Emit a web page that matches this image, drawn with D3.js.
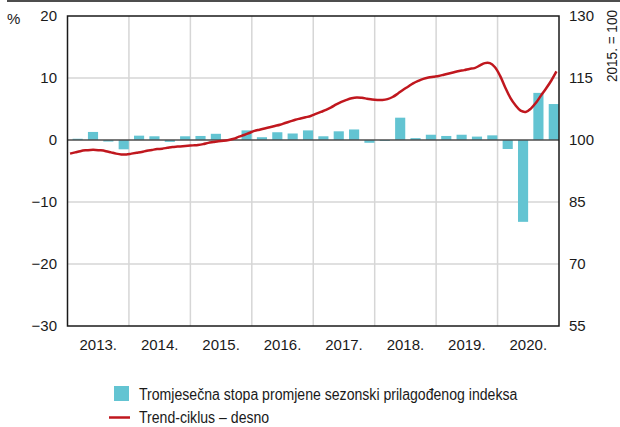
<!DOCTYPE html>
<html>
<head>
<meta charset="utf-8">
<script src="https://cdn.jsdelivr.net/npm/d3@7"></script>
<style>
  body { margin: 0; background: #fff; }
  text { font-family: "Liberation Sans", Arial, sans-serif; fill: #1a1a1a; }
</style>
</head>
<body>
<div id="chart"></div>
<script>
const years = ["2013.", "2014.", "2015.", "2016.", "2017.", "2018.", "2019.", "2020."];
const leftTicks = [20, 10, 0, -10, -20, -30];
const rightTicks = [130, 115, 100, 85, 70, 55];

// quarterly rate of change, % (left axis)
const quarterlyChange = [
    0.2, 1.3, -0.25, -1.5,
    0.7, 0.6, -0.3, 0.6,
    0.65, 1.0, 0.1, 1.55,
    0.45, 1.25, 1.05, 1.55,
    0.6, 1.4, 1.7, -0.45,
    -0.15, 3.6, 0.3, 0.85,
    0.65, 0.85, 0.55, 0.75,
    -1.45, -13.2, 7.6, 5.8
];

// trend-cycle, monthly, 2015. = 100 (right axis)
const trendCycle = [
    96.7, 97.0, 97.3, 97.5, 97.6, 97.6, 97.5, 97.3, 97.0, 96.7, 96.5, 96.5,
    96.7, 96.9, 97.1, 97.4, 97.6, 97.8, 97.9, 98.1, 98.3, 98.4, 98.5, 98.6,
    98.7, 98.8, 99.0, 99.3, 99.5, 99.7, 99.8, 100.0, 100.3, 100.8, 101.2, 101.7,
    102.2, 102.5, 102.8, 103.1, 103.4, 103.7, 104.1, 104.5, 104.9, 105.2, 105.5, 105.8,
    106.3, 106.8, 107.3, 107.9, 108.6, 109.2, 109.7, 110.1, 110.3, 110.2, 110.0, 109.8,
    109.7, 109.7, 109.9, 110.4, 111.2, 112.1, 112.9, 113.7, 114.3, 114.8, 115.1, 115.3,
    115.5, 115.8, 116.1, 116.4, 116.7, 116.9, 117.2, 117.4, 118.0, 118.6, 118.6, 117.6,
    115.5, 112.7, 110.2, 108.4, 107.1, 106.8, 107.6, 109.0, 110.8, 112.5, 114.4, 116.6
];

const legendLabels = ["Tromjesečna stopa promjene sezonski prilagođenog indeksa", "Trend-ciklus – desno"];

const barColor = "#63c4d2";
const lineColor = "#c0171e";

const width = 620, height = 427;
const margin = { top: 16, right: 61, bottom: 101, left: 67.5 };
const x0 = margin.left, x1 = width - margin.right;
const y0 = margin.top, y1 = height - margin.bottom;

const svg = d3.select("#chart")
    .append("svg")
    .attr("width", width)
    .attr("height", height);

// top rule
svg.append("line")
    .attr("x1", 7).attr("x2", width)
    .attr("y1", 1).attr("y2", 1)
    .attr("stroke", "#4d4d4d")
    .attr("stroke-width", 2);

// scales
const yLeft = d3.scaleLinear().domain([-30, 20]).range([y1, y0]);
const yRight = d3.scaleLinear().domain([55, 130]).range([y1, y0]);
const xYear = d3.scaleBand().domain(years).range([x0, x1]);
const quarters = quarterlyChange.map((d, i) => i);
const xQuarter = d3.scaleBand().domain(quarters).range([x0, x1]);
const xMonth = d3.scaleLinear().domain([0, trendCycle.length]).range([x0, x1]);

// grid
svg.append("g")
    .selectAll("line")
    .data(years.slice(1))
    .enter()
    .append("line")
    .attr("x1", d => xYear(d)).attr("x2", d => xYear(d))
    .attr("y1", y0).attr("y2", y1)
    .attr("stroke", "#d6d6d6")
    .attr("stroke-width", 1.5);

svg.append("g")
    .selectAll("line")
    .data([10, -10, -20])
    .enter()
    .append("line")
    .attr("x1", x0).attr("x2", x1)
    .attr("y1", d => yLeft(d)).attr("y2", d => yLeft(d))
    .attr("stroke", "#d6d6d6")
    .attr("stroke-width", 1.5);

// bars
const bw = xQuarter.bandwidth();
svg.append("g")
    .selectAll("rect")
    .data(quarterlyChange)
    .enter()
    .append("rect")
    .attr("x", (d, i) => xQuarter(i) + bw * 0.33)
    .attr("y", d => yLeft(Math.max(0, d)))
    .attr("width", bw * 0.66)
    .attr("height", d => Math.abs(yLeft(d) - yLeft(0)))
    .attr("fill", barColor);

// zero line
svg.append("line")
    .attr("x1", x0).attr("x2", x1)
    .attr("y1", yLeft(0)).attr("y2", yLeft(0))
    .attr("stroke", "#4d4d4d")
    .attr("stroke-width", 1.5);

// trend-cycle line
const line = d3.line()
    .x((d, i) => xMonth(i + 0.5))
    .y(d => yRight(d))
    .curve(d3.curveCatmullRom);

svg.append("path")
    .datum(trendCycle)
    .attr("d", line)
    .attr("fill", "none")
    .attr("stroke", lineColor)
    .attr("stroke-width", 2.5);

// frame
svg.append("rect")
    .attr("x", x0).attr("y", y0)
    .attr("width", x1 - x0).attr("height", y1 - y0)
    .attr("fill", "none")
    .attr("stroke", "#1a1a1a")
    .attr("stroke-width", 1.5);

// axes
const left = svg.append("g")
    .attr("transform", "translate(" + x0 + ",0)")
    .call(d3.axisLeft(yLeft).tickValues(leftTicks).tickSize(0).tickPadding(10.5));
const right = svg.append("g")
    .attr("transform", "translate(" + x1 + ",0)")
    .call(d3.axisRight(yRight).tickValues(rightTicks).tickSize(0).tickPadding(10));
const bottom = svg.append("g")
    .attr("transform", "translate(0," + y1 + ")")
    .call(d3.axisBottom(xYear).tickSize(0).tickPadding(13));

[left, right, bottom].forEach(g => {
    g.select(".domain").remove();
    g.selectAll("text")
        .attr("font-size", "15px")
        .attr("font-family", "Liberation Sans, Arial, sans-serif")
        .attr("fill", "#1a1a1a");
});

svg.append("text")
    .attr("x", 7).attr("y", 23.5)
    .attr("font-size", "15px")
    .text("%");

svg.append("text")
    .attr("transform", "translate(617,10) rotate(-90)")
    .attr("text-anchor", "end")
    .attr("font-size", "14px")
    .attr("textLength", 72)
    .attr("lengthAdjust", "spacingAndGlyphs")
    .text("2015. = 100");

// legend
const legend = svg.append("g");
legend.append("rect")
    .attr("x", 114).attr("y", 386)
    .attr("width", 15).attr("height", 15)
    .attr("fill", barColor);
legend.append("line")
    .attr("x1", 109).attr("x2", 130)
    .attr("y1", 417.5).attr("y2", 417.5)
    .attr("stroke", lineColor)
    .attr("stroke-width", 2.5);
legend.selectAll("text")
    .data(legendLabels)
    .enter()
    .append("text")
    .attr("x", 139)
    .attr("y", (d, i) => 399.5 + i * 23)
    .attr("font-size", "16px")
    .text(d => d)
    .each(function () {
        // the source font is condensed, squeeze to the same width
        const w = this.getComputedTextLength();
        d3.select(this)
            .attr("textLength", w * 0.88)
            .attr("lengthAdjust", "spacingAndGlyphs");
    });
</script>
</body>
</html>
